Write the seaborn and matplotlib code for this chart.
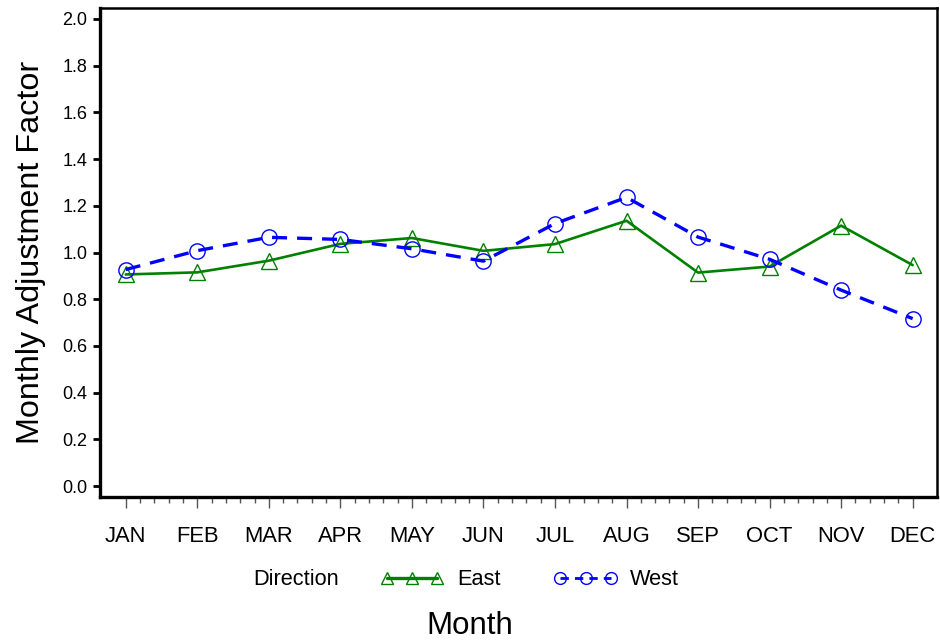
import matplotlib
matplotlib.use("Agg")
import matplotlib.pyplot as plt
from matplotlib.lines import Line2D
from matplotlib.ticker import FixedLocator
import numpy as np
import pandas as pd
import seaborn as sns

months = ["JAN", "FEB", "MAR", "APR", "MAY", "JUN",
          "JUL", "AUG", "SEP", "OCT", "NOV", "DEC"]
east = [0.906, 0.915, 0.965, 1.037, 1.062, 1.007,
        1.036, 1.136, 0.914, 0.940, 1.115, 0.946]
west = [0.927, 1.008, 1.065, 1.056, 1.016, 0.963,
        1.124, 1.236, 1.066, 0.971, 0.839, 0.717]
y_ticks = [0.0, 0.2, 0.4, 0.6, 0.8, 1.0, 1.2, 1.4, 1.6, 1.8, 2.0]

green = "#008000"
blue = "#0000FF"

df = pd.DataFrame({
    "Month": pd.Categorical(months * 2, categories=months, ordered=True),
    "Factor": east + west,
    "Direction": ["East"] * len(months) + ["West"] * len(months),
})
df["pos"] = df["Month"].cat.codes

sns.set_theme(style="white")
plt.rcParams["font.family"] = ["Liberation Sans", "DejaVu Sans"]
plt.rcParams.update({
    "text.color": "black",
    "axes.labelcolor": "black",
    "xtick.color": "black",
    "ytick.color": "black",
})

fig = plt.figure(figsize=(9.4, 6.43), dpi=100)
ax = fig.add_axes([0.1064, 0.227, 0.8904, 0.7606])

sns.lineplot(
    data=df, x="pos", y="Factor", hue="Direction", style="Direction",
    palette={"East": green, "West": blue},
    markers={"East": "^", "West": "o"},
    dashes={"East": "", "West": (4.5, 3.0)},
    markersize=11, legend=False, ax=ax,
)

for line, lw in zip(ax.lines, [1.9, 2.4]):
    line.set_markerfacecolor("none")
    line.set_markeredgecolor(line.get_color())
    line.set_markeredgewidth(1.0)
    line.set_linewidth(lw)

ax.set_xlim(-0.36, 11.34)
ax.set_ylim(-0.047, 2.047)
ax.set_xticks(range(len(months)))
ax.set_xticklabels(months)
ax.xaxis.set_minor_locator(FixedLocator(
    [i + f for i in range(len(months) - 1) for f in (0.2, 0.4, 0.6, 0.8)]))
ax.set_yticks(y_ticks)
ax.set_yticklabels([f"{v:.1f}" for v in y_ticks])

ax.tick_params(axis="x", which="major", direction="out", length=8, width=1.0,
               color="#555555", labelcolor="black", pad=13, labelsize=15.8,
               bottom=True)
ax.tick_params(axis="x", which="minor", direction="out", length=4, width=1.0,
               color="#555555", bottom=True)
ax.tick_params(axis="y", which="major", direction="out", length=5, width=2.0,
               color="black", labelcolor="black", pad=4, labelsize=13,
               left=True)

for side, sp in ax.spines.items():
    sp.set_visible(True)
    sp.set_color("black")
    sp.set_linewidth(2.4 if side in ("left", "bottom") else 1.8)

ax.set_xlabel("")
ax.set_ylabel("Monthly Adjustment Factor", fontsize=23.3, labelpad=12)
ax.grid(False)

fig.text(0.5, 0.027, "Month", ha="center", va="center", fontsize=22.5)
fig.text(0.269, 0.098, "Direction", ha="left", va="center", fontsize=15.7)

handles = [
    Line2D([], [], color=green, lw=2.4, marker="^", markersize=9,
           markerfacecolor="none", markeredgecolor=green, markeredgewidth=1.0),
    Line2D([], [], color=blue, lw=2.0, ls=(0, (3, 2.2)), marker="o",
           markersize=8.5, markerfacecolor="none", markeredgecolor=blue,
           markeredgewidth=1.0),
]
fig.legend(handles, ["East", "West"], loc="center left",
           bbox_to_anchor=(0.405, 0.098), ncol=2, frameon=False,
           fontsize=15.7, numpoints=3, handlelength=2.9, handletextpad=0.6,
           columnspacing=2.45, borderpad=0, borderaxespad=0)

fig.savefig("out.png", dpi=100)
